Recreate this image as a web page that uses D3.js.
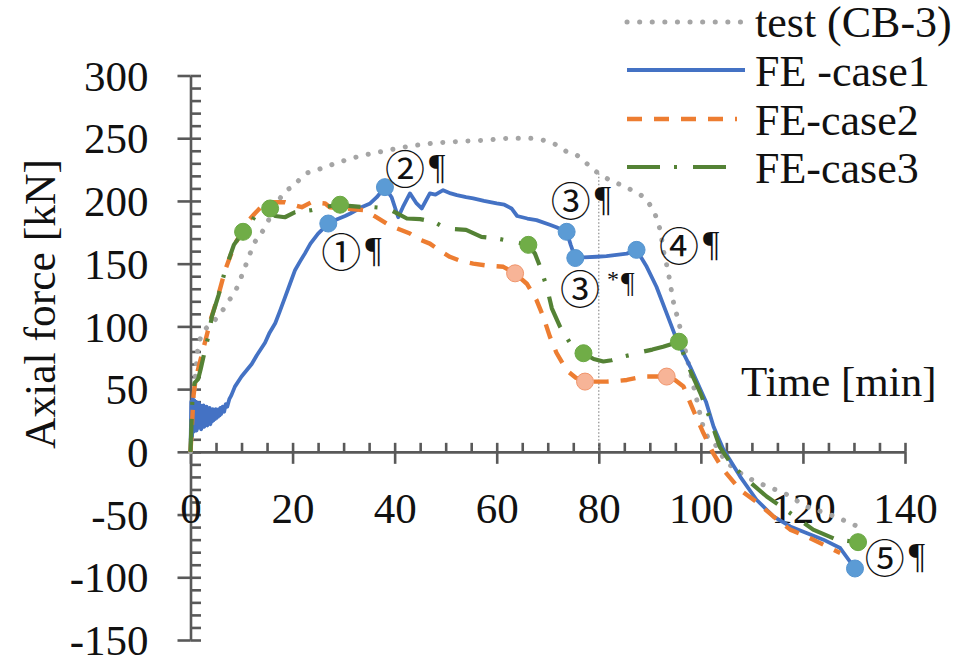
<!DOCTYPE html>
<html>
<head>
<meta charset="utf-8">
<script src="https://cdn.jsdelivr.net/npm/d3@7"></script>
<style>
  html, body { margin: 0; padding: 0; background: #fff; }
  svg { display: block; }
  .serif { font-family: "Liberation Serif", "Times New Roman", serif; fill: #111; }
</style>
</head>
<body>
<svg id="chart" width="972" height="660"></svg>
<script>
// Axial force history of the column (test CB-3 vs three FE cases)

const xTicks = [0, 20, 40, 60, 80, 100, 120, 140];
const yTicks = [-150, -100, -50, 0, 50, 100, 150, 200, 250, 300];

// test (CB-3)
const testTime = [0, 0.5, 1, 1.5, 2.5, 4.2, 5.8, 7.4, 9, 10.7, 12.6, 14.3, 16.2, 18.2, 20.5, 22.1, 24.7, 27.4, 30, 33, 37, 42, 47.5, 53, 58, 63, 66, 69, 71.5, 73.4, 75.7, 77.6, 79.6, 82, 84.2, 86.7, 89, 90.3, 91.5, 92.2, 92.6, 93.2, 93.7, 94.3, 94.8, 95.3, 97, 99, 100.8, 102.8, 104.3, 107.7, 112.1, 116.8, 120.7, 124.6, 128.6, 131.5];
const testForce = [0, 35, 62, 84, 95, 102.5, 110, 119.7, 130, 147.5, 167, 177, 192, 206, 213, 220.5, 224.5, 228.5, 232, 235.5, 239, 243, 246, 247.5, 248.5, 250, 250, 248.5, 245, 240, 236.5, 230, 223, 217, 213, 208, 202, 195, 184, 173, 162, 151, 141, 127, 116, 109, 80, 45, 16, 6, -4, -16.7, -26, -34, -43.5, -49, -55.6, -61];

// FE - case 1
const case1Time = [0, 0.15, 0.3, 0.45, 0.6, 0.75, 0.9, 1.05, 1.2, 1.35, 1.5, 1.65, 1.8, 1.95, 2.1, 2.25, 2.4, 2.55, 2.7, 2.85, 3.0, 3.15, 3.3, 3.45, 3.6, 3.75, 3.9, 4.05, 4.2, 4.35, 4.5, 4.65, 4.8, 4.95, 5.1, 5.25, 5.4, 5.55, 5.7, 5.85, 6.0, 6.3, 6.6, 6.9, 7.2, 7.6, 8.0, 8.7, 10, 11, 12, 13, 14.6, 15.5, 16.6, 17.5, 18.5, 19.5, 20.5, 21.5, 22.4, 23.5, 25, 26, 27, 28.5, 30.3, 31.3, 33.5, 35.2, 36.5, 38.1, 39.4, 40.7, 41.6, 43, 44.3, 45.3, 46.9, 48, 49.5, 51, 52.2, 54, 55.4, 57.5, 60, 61.5, 62.9, 64, 66, 67.8, 70.4, 71.7, 73.7, 74.5, 75.4, 77, 79.6, 81.5, 83.5, 85.5, 87.4, 89.4, 91.3, 93.3, 95.3, 97.9, 101, 102.5, 104.4, 107.7, 110.9, 114.2, 117.5, 120.7, 124, 127.3, 130.2];
const case1Force = [0, 40, 12, 43, 16, 41, 18, 40, 17, 38, 19, 39, 20, 37, 18, 36, 21, 37, 20, 35, 22, 36, 21, 34, 23, 35, 22, 33, 24, 34, 25, 33, 26, 34, 27, 33, 28, 34, 29, 35, 30, 36, 32, 38, 36, 42, 45, 52, 60, 65, 70, 77, 87, 95, 102.5, 112, 123, 134, 145, 152, 158, 166, 174, 178, 182, 185, 188, 190, 195, 198, 203, 211, 203, 187, 195, 206, 198, 194, 206, 205, 208.6, 206, 204.6, 203, 202, 200, 198, 197, 194, 188, 186, 184.7, 181, 179, 175.4, 165, 154.5, 155, 155.5, 156, 157, 158, 161, 147.5, 131.6, 110.4, 89, 68, 40, 20, 2, -19.7, -38.2, -51.5, -59.5, -64.7, -70, -76.7, -93];

// FE - case 2
const case2Time = [0, 0.3, 0.6, 1, 1.5, 2, 3, 4, 5.4, 6.8, 8.7, 10, 11.3, 12.6, 14, 15.9, 18.5, 20, 21.8, 23.7, 26.4, 27.3, 30, 33.9, 36, 38.4, 40.5, 43, 45, 46.9, 49, 50.8, 53, 55.4, 58, 61.3, 63.6, 65.9, 67.8, 69.1, 70.4, 71.7, 73.7, 75.5, 77.3, 79.5, 81.5, 83.5, 85.5, 88.7, 91, 93.3, 95, 96.6, 98.5, 100.5, 102.4, 104.4, 107.7, 110.9, 114.2, 117.5, 120.7, 124, 127.3];
const case2Force = [0, 22, 45, 58, 66, 74, 90, 106, 124, 145, 166, 174, 184, 190, 196, 199, 199, 197, 195, 199, 198, 195, 194, 192.7, 188, 182, 178, 174, 169, 166, 160, 155.5, 152, 150, 148.5, 147.5, 142.3, 134, 121, 108, 92, 79, 65, 59, 56, 56, 56, 56.5, 57.3, 60, 60, 60, 57, 52, 33.4, 15, -1, -14.3, -30.3, -40, -51.5, -62, -67.4, -74, -80.6];

// FE - case 3
const case3Time = [0, 0.4, 0.8, 1.5, 2, 3, 3.5, 4.2, 5.5, 6.8, 8.5, 10.3, 12, 13, 14.2, 15.6, 16.6, 18.5, 20.5, 23.7, 26, 29.3, 31, 33.9, 36, 38.6, 40.5, 42.4, 45, 47.9, 50, 54, 57, 60.6, 62.6, 64, 66.2, 67.5, 68.5, 69.8, 70.8, 72.4, 74.4, 77, 79, 80.9, 82.5, 84.8, 86.5, 88.7, 90.5, 92.6, 95.7, 96.5, 98, 100, 102, 103.7, 106, 109, 112.9, 117.5, 122, 126.6, 130.8];
const case3Force = [0, 45, 55, 58, 66, 84, 92, 108, 125, 145, 165, 175.4, 184, 190, 192, 194, 188, 187, 191, 192.7, 195, 197, 196, 195, 195, 194, 190, 186, 185.5, 183, 178, 177, 171.4, 169.6, 168, 167, 165, 158, 147.5, 131.6, 114.4, 99.8, 86.5, 78.6, 74, 72, 73, 75.9, 77.5, 79.9, 81.5, 83.8, 87.8, 79, 64, 46, 24, 4, -10, -22, -35.6, -48.8, -62, -70, -72];

// Marked states on each FE curve
const case1MarkTime = [27, 38.1, 73.7, 75.4, 87.4, 130.2];
const case1MarkForce = [182, 211, 175.4, 154.5, 161, -93];
const case2MarkTime = [63.6, 77.3, 93.3];
const case2MarkForce = [142.3, 56, 60];
const case3MarkTime = [10.3, 15.6, 29.3, 66.2, 77, 95.7, 130.8];
const case3MarkForce = [175.4, 194, 197, 165, 78.6, 87.8, -72];

// State labels: circled number, optional superscript, time/force anchor
const stateLabels = ["①", "②", "③", "③", "④", "⑤"];
const stateSup = ["", "", "", "*", "", ""];
const stateTime = [25.6, 38.1, 70.6, 72.4, 91.8, 132.1];
const stateForce = [147.7, 213.9, 187.6, 118.2, 152.5, -96.2];

const seriesNames = ["test (CB-3)", "FE -case1", "FE-case2", "FE-case3"];

const zip = (a, b) => a.map((v, i) => [v, b[i]]);

const svg = d3.select("#chart");
const x = d3.scaleLinear().domain([0, 140]).range([190.5, 905]);
const y = d3.scaleLinear().domain([-150, 300]).range([640, 75.5]);

const axisColor = "#595959";
const fontSize = 43;
const fmt = d => String(d);   // plain hyphen for negatives

// minor tick values
const xMinor = d3.range(0, 141, 5);
const yMinor = d3.range(-150, 301, 10);

// ---- Y axis ----
const yAxisG = svg.append("g").attr("transform", `translate(${x(0)},0)`);
yAxisG.call(d3.axisLeft(y).tickValues(yTicks).tickSize(13).tickSizeOuter(0).tickPadding(29).tickFormat(fmt));
yAxisG.append("g").call(d3.axisRight(y).tickValues(yMinor).tickSize(10.5).tickSizeOuter(0).tickFormat(""));
yAxisG.selectAll("g g path.domain").remove();

// ---- X axis (through zero) ----
const xAxisG = svg.append("g").attr("transform", `translate(0,${y(0)})`);
xAxisG.call(d3.axisBottom(x).tickValues(xTicks).tickSize(12).tickSizeOuter(0).tickPadding(29).tickFormat(fmt));
xAxisG.append("g").call(d3.axisTop(x).tickValues(xMinor).tickSize(9).tickSizeOuter(0).tickFormat(""));
xAxisG.selectAll("g g path.domain").remove();

svg.selectAll(".domain, .tick line")
  .attr("stroke", axisColor).attr("stroke-width", 2.6);
svg.selectAll(".tick text")
  .attr("class", "serif").attr("font-size", fontSize).attr("fill", "#111");
yAxisG.selectAll(".tick text").attr("dy", "0.34em");

// ---- axis titles ----
svg.append("text").attr("class", "serif")
  .attr("font-size", 43.5)
  .attr("text-anchor", "middle")
  .attr("transform", `translate(55,304) rotate(-90)`)
  .text("Axial force [kN]");

svg.append("text").attr("class", "serif")
  .attr("font-size", fontSize)
  .attr("x", 741).attr("y", 396)
  .text("Time [min]");

// ---- reference line at 80 min ----
svg.append("line")
  .attr("x1", x(80)).attr("x2", x(80))
  .attr("y1", y(222)).attr("y2", y(0))
  .attr("stroke", "#8c8c8c").attr("stroke-width", 1.2)
  .attr("stroke-dasharray", "1.5 2");

// ---- curves ----
const line = d3.line().x(d => x(d[0])).y(d => y(d[1]));

const styles = [
  { color: "#a5a5a5", width: 5, dash: "0.1 12.5", cap: "round" },
  { color: "#4472c4", width: 3.8, dash: null, cap: "butt" },
  { color: "#ed7d31", width: 4.4, dash: "15 12", cap: "butt" },
  { color: "#548235", width: 4.2, dash: "33 14 3 16", cap: "butt" }
];

const seriesData = [
  zip(testTime, testForce),
  zip(case1Time, case1Force),
  zip(case2Time, case2Force),
  zip(case3Time, case3Force)
];

seriesData.forEach((d, i) => {
  const st = styles[i];
  svg.append("path").datum(d)
    .attr("fill", "none")
    .attr("stroke", st.color)
    .attr("stroke-width", st.width)
    .attr("stroke-linecap", st.cap)
    .attr("stroke-linejoin", "round")
    .attr("stroke-dasharray", st.dash)
    .attr("d", i === 0 ? line.curve(d3.curveMonotoneX)(d) : line.curve(d3.curveLinear)(d));
});

// ---- markers ----
const markerSets = [
  { pts: zip(case3MarkTime, case3MarkForce), fill: "#70ad47", stroke: "#6aa843" },
  { pts: zip(case2MarkTime, case2MarkForce), fill: "#f7b497", stroke: "#f0956c" },
  { pts: zip(case1MarkTime, case1MarkForce), fill: "#5b9bd5", stroke: "#5594d0" }
];
markerSets.forEach(ms => {
  svg.append("g").selectAll("circle").data(ms.pts).join("circle")
    .attr("cx", d => x(d[0])).attr("cy", d => y(d[1]))
    .attr("r", 8.5)
    .attr("fill", ms.fill)
    .attr("stroke", ms.stroke).attr("stroke-width", 1);
});

// ---- state labels ----
stateLabels.forEach((s, i) => {
  const t = svg.append("text")
    .attr("x", x(stateTime[i])).attr("y", y(stateForce[i]))
    .attr("fill", "#111");
  t.append("tspan")
    .attr("font-family", "'Noto Sans CJK JP', 'DejaVu Sans', sans-serif")
    .attr("font-size", 40)
    .text(s);
  if (stateSup[i]) {
    t.append("tspan")
      .attr("font-family", "'Liberation Serif', serif")
      .attr("font-size", 24)
      .attr("dx", 7).attr("dy", -17)
      .text(stateSup[i]);
    t.append("tspan")
      .attr("font-family", "'Liberation Serif', serif")
      .attr("font-size", 30)
      .attr("dx", 2).attr("dy", 5)
      .text("¶");
  } else {
    t.append("tspan")
      .attr("font-family", "'Liberation Serif', serif")
      .attr("font-size", 36)
      .attr("dx", 4).attr("dy", -5)
      .text("¶");
  }
});

// ---- legend ----
const legendLineY = [22, 70, 119, 167];
const legendTextY = [37, 86, 134.5, 183];
const legendLineEnd = [742, 745, 737, 732];
seriesNames.forEach((name, i) => {
  const st = styles[i];
  svg.append("line")
    .attr("x1", 627).attr("x2", legendLineEnd[i])
    .attr("y1", legendLineY[i]).attr("y2", legendLineY[i])
    .attr("stroke", st.color)
    .attr("stroke-width", st.width)
    .attr("stroke-linecap", st.cap)
    .attr("stroke-dasharray", st.dash);
  svg.append("text").attr("class", "serif")
    .attr("font-size", 44)
    .attr("x", 755).attr("y", legendTextY[i])
    .text(name);
});
</script>
</body>
</html>
